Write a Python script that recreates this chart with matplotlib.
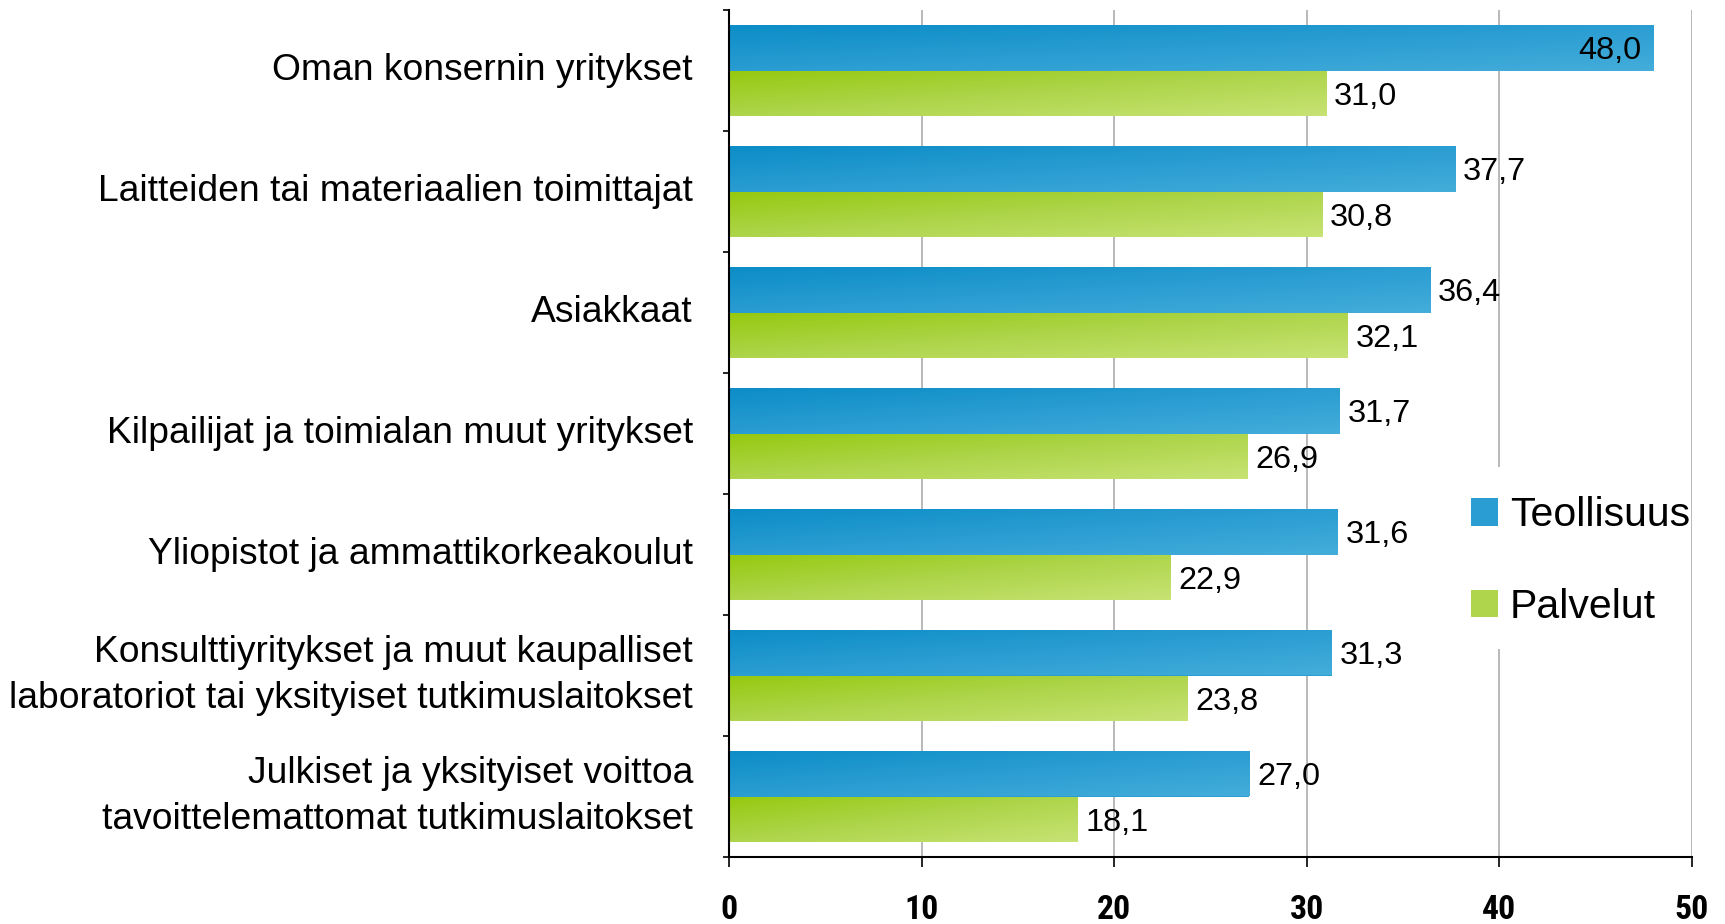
import matplotlib
matplotlib.use("Agg")
import matplotlib.pyplot as plt
import numpy as np
from matplotlib.colors import LinearSegmentedColormap
from matplotlib.patches import Patch, Rectangle

# ---------------- data ----------------
categories = [
    "Oman konsernin yritykset",
    "Laitteiden tai materiaalien toimittajat",
    "Asiakkaat",
    "Kilpailijat ja toimialan muut yritykset",
    "Yliopistot ja ammattikorkeakoulut",
    "Konsulttiyritykset ja muut kaupalliset\nlaboratoriot tai yksityiset tutkimuslaitokset",
    "Julkiset ja yksityiset voittoa\ntavoittelemattomat tutkimuslaitokset",
]
teollisuus = [48.0, 37.7, 36.4, 31.7, 31.6, 31.3, 27.0]
palvelut = [31.0, 30.8, 32.1, 26.9, 22.9, 23.8, 18.1]
series_names = ["Teollisuus", "Palvelut"]
xticks = [0, 10, 20, 30, 40, 50]

# ---------------- style ----------------
blue_stops = ["#0C8DC7", "#2A9DD2", "#44ADDA"]
green_stops = ["#96C90F", "#AED54B", "#C7E374"]
plt.rcParams["font.family"] = ["Liberation Sans", "DejaVu Sans"]

W, H, DPI = 1725, 924, 100
fig = plt.figure(figsize=(W / DPI, H / DPI), dpi=DPI)
ax = fig.add_axes([729 / W, 1 - 857 / H, (1692 - 729) / W, (857 - 10) / H])

n = len(categories)
y = np.arange(n)
bar_h = 0.38

b1 = ax.barh(y - bar_h / 2, teollisuus, height=bar_h, color=blue_stops[1],
             edgecolor="none", zorder=2)
b2 = ax.barh(y + bar_h / 2, palvelut, height=bar_h, color=green_stops[1],
             edgecolor="none", zorder=2)


def gradient(stops, npx=80):
    cmap = LinearSegmentedColormap.from_list("g", stops)
    u = np.linspace(0, 1, npx)
    U, V = np.meshgrid(u, u)
    return cmap((U + V) / 2)


for bars, stops in ((b1, blue_stops), (b2, green_stops)):
    img = gradient(stops)
    for p in bars:
        x0, y0, w, h = p.get_x(), p.get_y(), p.get_width(), p.get_height()
        im = ax.imshow(img, extent=[x0, x0 + w, y0 + h, y0], origin="upper",
                       aspect="auto", interpolation="bilinear", zorder=2.1)
        im.set_clip_path(p)

ax.set_xlim(0, 50)
ax.set_ylim(n - 0.5, -0.5)

# value labels
for bars, vals in ((b1, teollisuus), (b2, palvelut)):
    for p, v in zip(bars, vals):
        end = p.get_x() + p.get_width()
        yc = p.get_y() + p.get_height() / 2
        txt = f"{v:.1f}".replace(".", ",")
        if v > 45:
            ax.annotate(txt, (end, yc), xytext=(-12, -11.5), textcoords="offset pixels",
                        ha="right", va="baseline", fontsize=23.4, color="black", zorder=5)
        else:
            ax.annotate(txt, (end, yc), xytext=(8, -11.5), textcoords="offset pixels",
                        ha="left", va="baseline", fontsize=23.4, color="black", zorder=5)

# axes styling
ax.set_xticks(xticks)
ax.set_xticklabels([str(t) for t in xticks], fontsize=24.3, fontweight="bold",
                   family=["Roboto Condensed", "IBM Plex Sans Condensed", "Liberation Sans"])
ax.tick_params(axis="x", direction="out", length=7.2, width=1.2, color="black", pad=19.5)
ax.set_yticks(y)
ax.set_yticklabels(categories, fontsize=26.8, linespacing=1.42)
for lab in ax.get_yticklabels():
    lab.set_verticalalignment("center")
ax.tick_params(axis="y", which="major", length=0, pad=26)
ax.set_yticks(np.arange(-0.5, n, 1), minor=True)
ax.tick_params(axis="y", which="minor", direction="out", length=4.5, width=1.2, color="black")

ax.xaxis.grid(True, color="#A6A6A6", linewidth=1.1, zorder=0.5)
ax.set_axisbelow(True)
for s in ("top", "right"):
    ax.spines[s].set_visible(False)
for s in ("left", "bottom"):
    ax.spines[s].set_linewidth(1.5)
    ax.spines[s].set_color("black")

# white area behind the legend (hides the grid line there)
ax.add_patch(Rectangle(((1455 - 729) / 963, (857 - 649) / 847), (1689 - 1455) / 963,
                       (649 - 467) / 847, transform=ax.transAxes, facecolor="white",
                       edgecolor="none", zorder=1))

handles = [Patch(facecolor=blue_stops[1], edgecolor="none"),
           Patch(facecolor=green_stops[1], edgecolor="none")]
ax.legend(handles, series_names, loc="center left",
          bbox_to_anchor=((1471 - 729) / 963, (857 - 561) / 847),
          frameon=False, fontsize=29.5, handlelength=0.65, handleheight=0.65,
          handletextpad=0.3, labelspacing=1.3, borderpad=0, borderaxespad=0)

fig.savefig("out.png", dpi=DPI, facecolor="white")
